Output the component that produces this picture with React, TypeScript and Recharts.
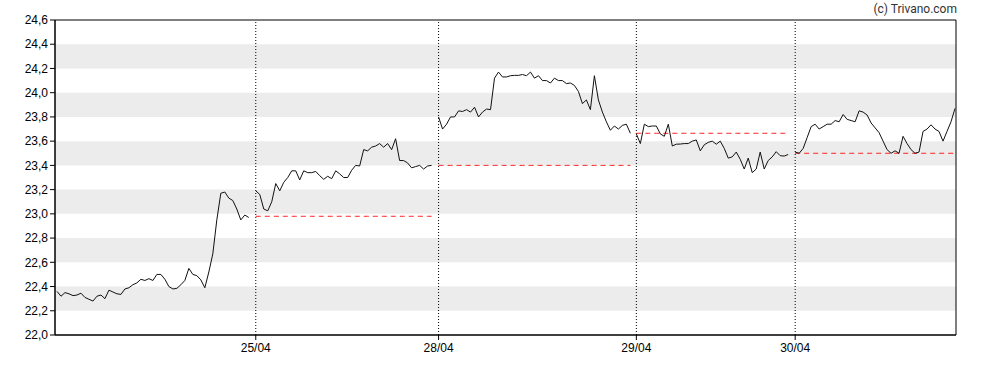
import { LineChart, Line, XAxis, YAxis, ReferenceArea, ReferenceLine } from 'recharts';

// intraday quotes, one array per trading day (sample every 2 index units)
const day1 = [22.36, 22.32, 22.35, 22.34, 22.325, 22.33, 22.345, 22.31, 22.295, 22.28, 22.32, 22.33, 22.3, 22.37, 22.355, 22.34, 22.335, 22.38, 22.39, 22.415, 22.43, 22.46, 22.45, 22.465, 22.45, 22.5, 22.5, 22.46, 22.4, 22.38, 22.385, 22.415, 22.45, 22.55, 22.5, 22.49, 22.455, 22.39, 22.52, 22.67, 22.95, 23.17, 23.18, 23.13, 23.11, 23.04, 22.95, 22.99, 22.97];
const day2 = [23.19, 23.16, 23.04, 23.025, 23.1, 23.25, 23.19, 23.26, 23.3, 23.355, 23.355, 23.28, 23.355, 23.34, 23.34, 23.35, 23.315, 23.285, 23.31, 23.29, 23.355, 23.33, 23.3, 23.3, 23.36, 23.4, 23.395, 23.53, 23.52, 23.55, 23.56, 23.58, 23.55, 23.58, 23.53, 23.62, 23.44, 23.44, 23.42, 23.38, 23.39, 23.4, 23.37, 23.395, 23.4];
const day3 = [23.8, 23.7, 23.74, 23.8, 23.8, 23.85, 23.845, 23.86, 23.84, 23.88, 23.8, 23.84, 23.865, 23.86, 24.12, 24.17, 24.13, 24.13, 24.14, 24.143, 24.143, 24.15, 24.14, 24.17, 24.12, 24.14, 24.1, 24.1, 24.08, 24.12, 24.1, 24.1, 24.075, 24.08, 24.06, 24.01, 23.91, 23.94, 23.86, 24.14, 23.94, 23.84, 23.76, 23.69, 23.725, 23.7, 23.73, 23.74, 23.665];
const day4 = [23.66, 23.58, 23.74, 23.72, 23.725, 23.725, 23.66, 23.64, 23.74, 23.56, 23.575, 23.576, 23.58, 23.58, 23.6, 23.61, 23.52, 23.57, 23.59, 23.6, 23.575, 23.6, 23.54, 23.46, 23.47, 23.51, 23.45, 23.37, 23.46, 23.34, 23.37, 23.51, 23.37, 23.44, 23.47, 23.513, 23.48, 23.477, 23.49];
const day5 = [23.51, 23.5, 23.54, 23.63, 23.72, 23.74, 23.7, 23.72, 23.74, 23.74, 23.77, 23.76, 23.82, 23.78, 23.77, 23.76, 23.85, 23.84, 23.816, 23.75, 23.71, 23.67, 23.6, 23.53, 23.5, 23.52, 23.5, 23.64, 23.58, 23.53, 23.5, 23.51, 23.68, 23.7, 23.735, 23.7, 23.68, 23.6, 23.68, 23.76, 23.87];

const days = [day1, day2, day3, day4, day5];
const dayStart = [1, 100.5, 192, 291, 370.5];
const prevClose = [null, 22.98, 23.4, 23.665, 23.5];

const tickPos = [100.5, 192, 291, 370.5];
const tickLabels = ['25/04', '28/04', '29/04', '30/04'];
const yTicks = [22.0, 22.2, 22.4, 22.6, 22.8, 23.0, 23.2, 23.4, 23.6, 23.8, 24.0, 24.2, 24.4, 24.6];
const bands = [[22.2, 22.4], [22.6, 22.8], [23.0, 23.2], [23.4, 23.6], [23.8, 24.0], [24.2, 24.4]];

type Row = { x: number; price: number | null; prev: number | null };
const rows: Row[] = [];
days.forEach((vals, d) => {
  vals.forEach((v, i) => {
    rows.push({ x: dayStart[d] + i * 2, price: v, prev: prevClose[d] });
  });
  if (d < days.length - 1) {
    const last = dayStart[d] + (vals.length - 1) * 2;
    rows.push({ x: (last + dayStart[d + 1]) / 2, price: null, prev: null });
  }
});

const W = 988;
const H = 370;
const font = 'Liberation Sans, Arial, sans-serif';

export default function App() {
  return (
    <div style={{ position: 'fixed', left: 0, top: 0, width: W, height: H, background: '#fff' }}>
      <div style={{ position: 'absolute', right: 31, top: 2, fontFamily: 'Roboto, sans-serif', fontSize: 12, color: '#333' }}>
        (c) Trivano.com
      </div>
      <LineChart width={W} height={H} data={rows} margin={{ top: 20, right: 32, bottom: 0, left: 0 }}>
        {bands.map(([a, b]) => (
          <ReferenceArea key={a} y1={a} y2={b} fill="#ececec" fillOpacity={1} stroke="none" />
        ))}
        <XAxis
          type="number"
          dataKey="x"
          domain={[0, 451]}
          ticks={tickPos}
          tickFormatter={(v) => tickLabels[tickPos.indexOf(v)] ?? ''}
          height={35}
          tickSize={5}
          tickMargin={3}
          stroke="#000"
          tick={{ fontSize: 12, fill: '#000', fontFamily: font }}
        />
        <YAxis
          type="number"
          domain={[22, 24.6]}
          ticks={yTicks}
          interval={0}
          width={55}
          tickSize={5}
          tickMargin={2}
          stroke="#000"
          tickFormatter={(v) => v.toFixed(1).replace('.', ',')}
          tick={{ fontSize: 12, fill: '#000', fontFamily: font }}
        />
        {tickPos.map((t) => (
          <ReferenceLine key={t} x={t} stroke="#000" strokeDasharray="1 2" />
        ))}
        <ReferenceArea x1={0} x2={451} y1={22} y2={24.6} fill="none" stroke="#000" />
        <Line
          dataKey="prev"
          stroke="#ff2020"
          strokeWidth={1}
          strokeDasharray="5 4"
          dot={false}
          isAnimationActive={false}
          connectNulls={false}
        />
        <Line
          dataKey="price"
          type="linear"
          stroke="#111"
          strokeWidth={1}
          dot={false}
          isAnimationActive={false}
          connectNulls={false}
        />
      </LineChart>
    </div>
  );
}
